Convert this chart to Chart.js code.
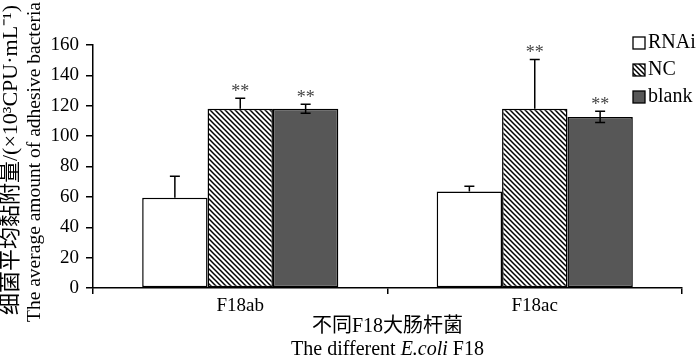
<!DOCTYPE html>
<html>
<head>
<meta charset="utf-8">
<script src="https://cdn.jsdelivr.net/npm/chart.js@4.4.1/dist/chart.umd.min.js"></script>
<style>
html,body{margin:0;padding:0;background:#fff;}
#wrap{width:700px;height:358px;position:relative;}
</style>
</head>
<body>
<div id="wrap"><canvas id="c" width="700" height="358"></canvas></div>
<script>
// ---- data ----
const categories = ['F18ab', 'F18ac'];
const seriesNames = ['RNAi', 'NC', 'blank'];
const rnaiValues = [59.5, 63.5];
const ncValues = [118, 118];
const blankValues = [118, 112.6];
const rnaiErrors = [14, 3.5];
const ncErrors = [7, 32.5];
const blankErrors = [3, 3.7];
const rnaiMarks = ['', ''];
const ncMarks = ['**', '**'];
const blankMarks = ['**', '**'];
const yTicks = [0, 20, 40, 60, 80, 100, 120, 140, 160];
const yTitleZh = '细菌平均黏附量/(×10³CPU·mL⁻¹)';
const yTitleEn = 'The average amount of adhesive bacteria';
const xTitleZh = '不同F18大肠杆菌';
const xTitleEnParts = [['The different ', false], ['E.coli', true], [' F18', false]];

const SERIF = '"Liberation Serif", "Times New Roman", "Noto Sans CJK SC", serif';

function hatch() {
  const n = 5;
  const t = document.createElement('canvas');
  t.width = n; t.height = n;
  const g = t.getContext('2d');
  g.fillStyle = '#fff'; g.fillRect(0, 0, n, n);
  g.strokeStyle = '#000'; g.lineWidth = 1.5;
  g.beginPath();
  g.moveTo(-1, -1); g.lineTo(n + 1, n + 1);
  g.moveTo(-1, n - 1); g.lineTo(1, n + 1);
  g.moveTo(n - 1, -1); g.lineTo(n + 1, 1);
  g.stroke();
  return g.createPattern(t, 'repeat');
}
const fills = ['#ffffff', hatch(), '#575757'];

const errorsAll = [rnaiErrors, ncErrors, blankErrors];
const marksAll = [rnaiMarks, ncMarks, blankMarks];
const lowerErr = [false, false, true];

const extras = {
  id: 'extras',
  afterDatasetsDraw(chart) {
    const ctx = chart.ctx;
    const y = chart.scales.y;
    ctx.save();
    chart.data.datasets.forEach((ds, di) => {
      const meta = chart.getDatasetMeta(di);
      meta.data.forEach((bar, i) => {
        const v = ds.data[i], e = errorsAll[di][i];
        const yt = y.getPixelForValue(v + e);
        const yb = lowerErr[di] ? y.getPixelForValue(v - e) : y.getPixelForValue(v);
        ctx.strokeStyle = '#000'; ctx.lineWidth = 1.5;
        ctx.beginPath();
        ctx.moveTo(bar.x, yb); ctx.lineTo(bar.x, yt);
        ctx.moveTo(bar.x - 5, yt); ctx.lineTo(bar.x + 5, yt);
        if (lowerErr[di]) { ctx.moveTo(bar.x - 5, yb); ctx.lineTo(bar.x + 5, yb); }
        ctx.stroke();
        const m = marksAll[di][i];
        if (m) {
          ctx.fillStyle = '#444';
          ctx.font = '18px ' + SERIF;
          ctx.textAlign = 'center';
          ctx.textBaseline = 'alphabetic';
          ctx.fillText(m, bar.x, yt - 1);
        }
      });
    });
    ctx.restore();
  },
  afterDraw(chart) {
    const ctx = chart.ctx;
    ctx.save();
    ctx.fillStyle = '#000';
    // legend
    const ly = [37, 64, 91];
    chart.data.datasets.forEach((ds, di) => {
      ctx.fillStyle = ds.backgroundColor;
      ctx.fillRect(633, ly[di], 12, 12);
      ctx.strokeStyle = '#000'; ctx.lineWidth = 1.3;
      ctx.strokeRect(633, ly[di], 12, 12);
      ctx.fillStyle = '#000';
      ctx.font = '20px ' + SERIF;
      ctx.textAlign = 'left'; ctx.textBaseline = 'middle';
      ctx.fillText(ds.label, 648, ly[di] + 6);
    });
    // y titles
    ctx.textAlign = 'center'; ctx.textBaseline = 'middle';
    ctx.font = '22px ' + SERIF;
    ctx.save(); ctx.translate(11, 160); ctx.rotate(-Math.PI / 2); ctx.fillText(yTitleZh, 0, 0); ctx.restore();
    ctx.font = '19.5px ' + SERIF;
    ctx.save(); ctx.translate(35, 162); ctx.rotate(-Math.PI / 2); ctx.fillText(yTitleEn, 0, 0); ctx.restore();
    // x titles
    const cx = chart.scales.x.getPixelForValue(0.5);
    ctx.font = '20px ' + SERIF;
    ctx.fillText(xTitleZh, cx, 327);
    let total = 0;
    const w = xTitleEnParts.map(([t, it]) => { ctx.font = (it ? 'italic ' : '') + '20px ' + SERIF; const m = ctx.measureText(t).width; total += m; return m; });
    let x = cx - total / 2;
    ctx.textAlign = 'left';
    xTitleEnParts.forEach(([t, it], k) => { ctx.font = (it ? 'italic ' : '') + '20px ' + SERIF; ctx.fillText(t, x, 350); x += w[k]; });
    ctx.restore();
  }
};

new Chart(document.getElementById('c'), {
  type: 'bar',
  data: {
    labels: categories,
    datasets: [
      { label: seriesNames[0], data: rnaiValues, backgroundColor: fills[0] },
      { label: seriesNames[1], data: ncValues, backgroundColor: fills[1] },
      { label: seriesNames[2], data: blankValues, backgroundColor: fills[2] }
    ].map(d => Object.assign(d, { borderColor: '#000', borderWidth: 1.5, borderSkipped: false, barPercentage: 1, categoryPercentage: 0.666 }))
  },
  options: {
    responsive: false,
    animation: false,
    devicePixelRatio: 1,
    layout: { padding: { left: 0, right: 18, top: 45, bottom: 0 } },
    plugins: { legend: { display: false }, tooltip: { enabled: false } },
    scales: {
      x: {
        afterFit(s) { s.height = 70; },
        grid: { offset: true, drawOnChartArea: false, drawTicks: true, tickLength: 6, color: '#000', lineWidth: 1.5 },
        border: { color: '#000', width: 1.5 },
        ticks: { color: '#000', font: { family: SERIF, size: 19 }, padding: 1 }
      },
      y: {
        min: 0, max: 160,
        afterFit(s) { s.width = 93; },
        afterBuildTicks(s) { s.ticks = yTicks.map(v => ({ value: v })); },
        grid: { drawOnChartArea: false, drawTicks: true, tickLength: 7, color: '#000', lineWidth: 1.5 },
        border: { color: '#000', width: 1.5 },
        ticks: { color: '#000', font: { family: SERIF, size: 19 }, padding: 7 }
      }
    }
  },
  plugins: [extras]
});
</script>
</body>
</html>
